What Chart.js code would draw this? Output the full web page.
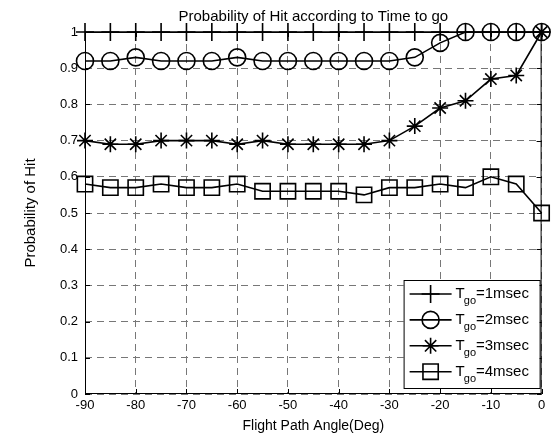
<!DOCTYPE html>
<html>
<head>
<meta charset="utf-8">
<title>Probability of Hit according to Time to go</title>
<script src="https://cdn.jsdelivr.net/npm/chart.js@4"></script>
<style>
  html, body { margin: 0; padding: 0; background: #fff; }
  #wrap { width: 554px; height: 438px; }
</style>
</head>
<body>
<div id="wrap"><canvas id="chart"></canvas></div>
<script>
// Data
const angles = [-90, -85, -80, -75, -70, -65, -60, -55, -50, -45, -40, -35, -30, -25, -20, -15, -10, -5, 0];
const tgo1 = [1, 1, 1, 1, 1, 1, 1, 1, 1, 1, 1, 1, 1, 1, 1, 1, 1, 1, 1];
const tgo2 = [0.92, 0.92, 0.93, 0.92, 0.92, 0.92, 0.93, 0.92, 0.92, 0.92, 0.92, 0.92, 0.92, 0.93, 0.97, 1, 1, 1, 1];
const tgo3 = [0.70, 0.69, 0.69, 0.70, 0.70, 0.70, 0.69, 0.70, 0.69, 0.69, 0.69, 0.69, 0.70, 0.74, 0.79, 0.81, 0.87, 0.88, 1.0];
const tgo4 = [0.58, 0.57, 0.57, 0.58, 0.57, 0.57, 0.58, 0.56, 0.56, 0.56, 0.56, 0.55, 0.57, 0.57, 0.58, 0.57, 0.60, 0.58, 0.50];
const seriesLabels = ['1msec', '2msec', '3msec', '4msec'];

const titleText = 'Probability of Hit according to Time to go';
const xTitle = 'Flight Path Angle(Deg)';
const yTitle = 'Probability of Hit';

const FONT = '"Liberation Sans", Arial, Helvetica, sans-serif';
Chart.defaults.font.family = FONT;
Chart.defaults.color = '#000';

const markers = [
    { style: 'cross', radius: 9 },
    { style: 'circle', radius: 8.5 },
    { style: 'star', radius: 8 },
    { style: 'rect', radius: 10.8 }
];

const makeSet = (values, i) => ({
    label: 'T_go=' + seriesLabels[i],
    data: values.map((v, k) => ({ x: angles[k], y: v })),
    borderColor: '#000',
    backgroundColor: 'rgba(0,0,0,0)',
    borderWidth: 1.6,
    pointStyle: markers[i].style,
    pointRadius: markers[i].radius,
    pointBorderWidth: 1.6,
    pointBorderColor: '#000',
    pointBackgroundColor: 'rgba(0,0,0,0)',
    tension: 0,
    clip: false
});

// MATLAB style numbers: 0, 0.1 ... 1
const tickFmt = v => String(Number(v.toFixed(1)));

// simple marker drawer for the legend
function drawMarker(ctx, style, r, x, y) {
    ctx.beginPath();
    if (style === 'cross') {
        ctx.moveTo(x - r, y); ctx.lineTo(x + r, y);
        ctx.moveTo(x, y - r); ctx.lineTo(x, y + r);
    } else if (style === 'circle') {
        ctx.arc(x, y, r, 0, Math.PI * 2);
    } else if (style === 'star') {
        const d = r * Math.SQRT1_2;
        ctx.moveTo(x - r, y); ctx.lineTo(x + r, y);
        ctx.moveTo(x, y - r); ctx.lineTo(x, y + r);
        ctx.moveTo(x - d, y - d); ctx.lineTo(x + d, y + d);
        ctx.moveTo(x - d, y + d); ctx.lineTo(x + d, y - d);
    } else if (style === 'rect') {
        const s = r * Math.SQRT1_2;
        ctx.rect(x - s, y - s, 2 * s, 2 * s);
    }
    ctx.stroke();
}

// axes box, inward ticks, title
const matlabFrame = {
    id: 'matlabFrame',
    beforeDatasetsDraw(chart) {
        const { ctx, chartArea: a, scales } = chart;
        ctx.save();
        ctx.strokeStyle = '#000';
        ctx.lineWidth = 1;
        ctx.setLineDash([]);
        ctx.strokeRect(a.left + 0.5, a.top + 0.5, a.right - a.left - 1, a.bottom - a.top - 1);
        ctx.beginPath();
        scales.x.ticks.forEach(t => {
            const px = Math.round(scales.x.getPixelForValue(t.value)) + 0.5;
            ctx.moveTo(px, a.bottom); ctx.lineTo(px, a.bottom - 5);
            ctx.moveTo(px, a.top); ctx.lineTo(px, a.top + 5);
        });
        scales.y.ticks.forEach(t => {
            const py = Math.round(scales.y.getPixelForValue(t.value)) + 0.5;
            ctx.moveTo(a.left, py); ctx.lineTo(a.left + 5, py);
            ctx.moveTo(a.right, py); ctx.lineTo(a.right - 5, py);
        });
        ctx.stroke();
        ctx.restore();
    },
    afterDraw(chart) {
        const { ctx, chartArea: a } = chart;
        ctx.save();
        ctx.fillStyle = '#000';
        ctx.font = '15px ' + FONT;
        ctx.textAlign = 'center';
        ctx.textBaseline = 'alphabetic';
        ctx.fillText(titleText, (a.left + a.right) / 2, 21);
        ctx.restore();
    }
};

// legend with subscripts, lower right inside the axes
const subLegend = {
    id: 'subLegend',
    afterDraw(chart) {
        const { ctx, chartArea: a } = chart;
        const right = a.right - 2, bottom = a.bottom - 6;
        const w = 136, h = 108;
        const left = right - w, top = bottom - h;
        ctx.save();
        ctx.fillStyle = '#fff';
        ctx.fillRect(left, top, w, h);
        ctx.strokeStyle = '#000';
        ctx.lineWidth = 1;
        ctx.strokeRect(left + 0.5, top + 0.5, w, h);
        chart.data.datasets.forEach((ds, i) => {
            const y = top + 14 + i * 25.9;
            ctx.strokeStyle = '#000';
            ctx.lineWidth = 1.6;
            ctx.beginPath();
            ctx.moveTo(left + 6, y); ctx.lineTo(left + 48, y);
            ctx.stroke();
            drawMarker(ctx, markers[i].style, markers[i].radius, left + 27, y);
            ctx.fillStyle = '#000';
            ctx.textAlign = 'left';
            ctx.textBaseline = 'alphabetic';
            let x = left + 52;
            ctx.font = '15px ' + FONT;
            ctx.fillText('T', x, y + 4);
            x += ctx.measureText('T').width - 1;
            ctx.font = '11px ' + FONT;
            ctx.fillText('go', x, y + 10);
            x += ctx.measureText('go').width;
            ctx.font = '15px ' + FONT;
            ctx.fillText('=' + seriesLabels[i], x, y + 4);
        });
        ctx.restore();
    }
};

new Chart(document.getElementById('chart'), {
    type: 'line',
    data: {
        datasets: [makeSet(tgo1, 0), makeSet(tgo2, 1), makeSet(tgo3, 2), makeSet(tgo4, 3)]
    },
    options: {
        responsive: true,
        maintainAspectRatio: false,
        animation: false,
        layout: { padding: { left: 0, right: 9, top: 32, bottom: 0 } },
        plugins: {
            legend: { display: false },
            title: { display: false },
            tooltip: { enabled: false }
        },
        scales: {
            x: {
                type: 'linear',
                min: -90,
                max: 0,
                ticks: { stepSize: 10, color: '#000', font: { size: 13 }, padding: 4, maxRotation: 0 },
                grid: { color: '#777', lineWidth: 1, drawTicks: false },
                border: { display: false, dash: [7, 5] },
                title: { display: true, text: xTitle, color: '#000', font: { size: 14 }, padding: { top: 0, bottom: 3 } },
                afterFit: s => { s.height = 44; }
            },
            y: {
                type: 'linear',
                min: 0,
                max: 1,
                ticks: { stepSize: 0.1, color: '#000', font: { size: 13 }, padding: 7, callback: tickFmt },
                grid: { color: '#777', lineWidth: 1, drawTicks: false },
                border: { display: false, dash: [7, 5] },
                title: { display: true, text: yTitle, color: '#000', font: { size: 15 }, padding: { top: 22, bottom: 0 } },
                afterFit: s => { s.width = 85; }
            }
        }
    },
    plugins: [matlabFrame, subLegend]
});
</script>
</body>
</html>
